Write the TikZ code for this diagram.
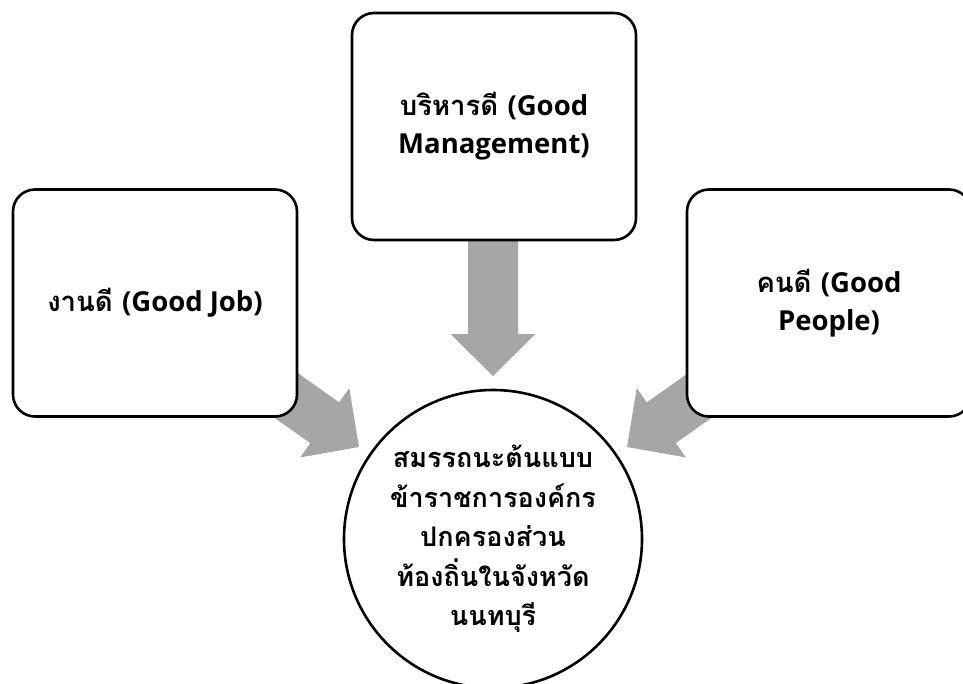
\documentclass[tikz,border=0pt]{standalone}
\usepackage{fontspec}
\newfontfamily\thaifont[Script=Thai]{Loma}
\newfontfamily\latinfont{Open Sans}
\newcommand{\lat}[1]{{\latinfont #1}}
\definecolor{arrowgray}{RGB}{166,166,166}
\tikzset{
  block/.style={draw=black, line width=2.6pt, fill=white, rounded corners=22pt,
    minimum width=284pt, minimum height=227pt, align=center, inner sep=6pt,
    font=\thaifont\bfseries\fontsize{27.5}{38}\selectfont},
  hub/.style={draw=black, line width=2.6pt, fill=white, circle, minimum size=298pt,
    align=center, inner sep=0pt, font=\thaifont\bfseries\fontsize{27}{39.5}\selectfont},
  fatarrow/.style={fill=arrowgray, draw=none}
}
% fat block arrow with its tip at the origin, pointing along +x
\newcommand{\blockarrow}[1]{%
  \fill[fatarrow] (-#1,-25) -- (-42,-25) -- (-42,-42.5) -- (0,0) -- (-42,42.5) -- (-42,25) -- (-#1,25) -- cycle;}
\begin{document}
\begin{tikzpicture}[x=1pt, y=-1pt]
  \useasboundingbox (0,0) rectangle (963,683);
  \clip (0,0) rectangle (963,683);

  % arrow tips
  \coordinate (tipT) at (493,376);
  \coordinate (tipL) at (359,447);
  \coordinate (tipR) at (627,447);

  % block arrows (drawn first, boxes cover their tails)
  \begin{scope}[shift={(tipT)}, rotate=-90] \blockarrow{145} \end{scope}
  \begin{scope}[shift={(tipL)}, rotate=-35.3] \blockarrow{160} \end{scope}
  \begin{scope}[shift={(tipR)}, rotate=-144.7] \blockarrow{160} \end{scope}

  % boxes
  \node[block] (mgmt) at (494,126.5) {บริหารดี \lat{(Good}\\\lat{Management)}};
  \node[block] (job) at (155,303) {งานดี \lat{(Good Job)}};
  \node[block] (people) at (829,303) {คนดี \lat{(Good}\\\lat{People)}};

  % centre circle
  \node[hub] (core) at (493,539) {สมรรถนะต้นแบบ\\ข้าราชการองค์กร\\ปกครองส่วน\\ท้องถิ่นในจังหวัด\\นนทบุรี};
\end{tikzpicture}
\end{document}
